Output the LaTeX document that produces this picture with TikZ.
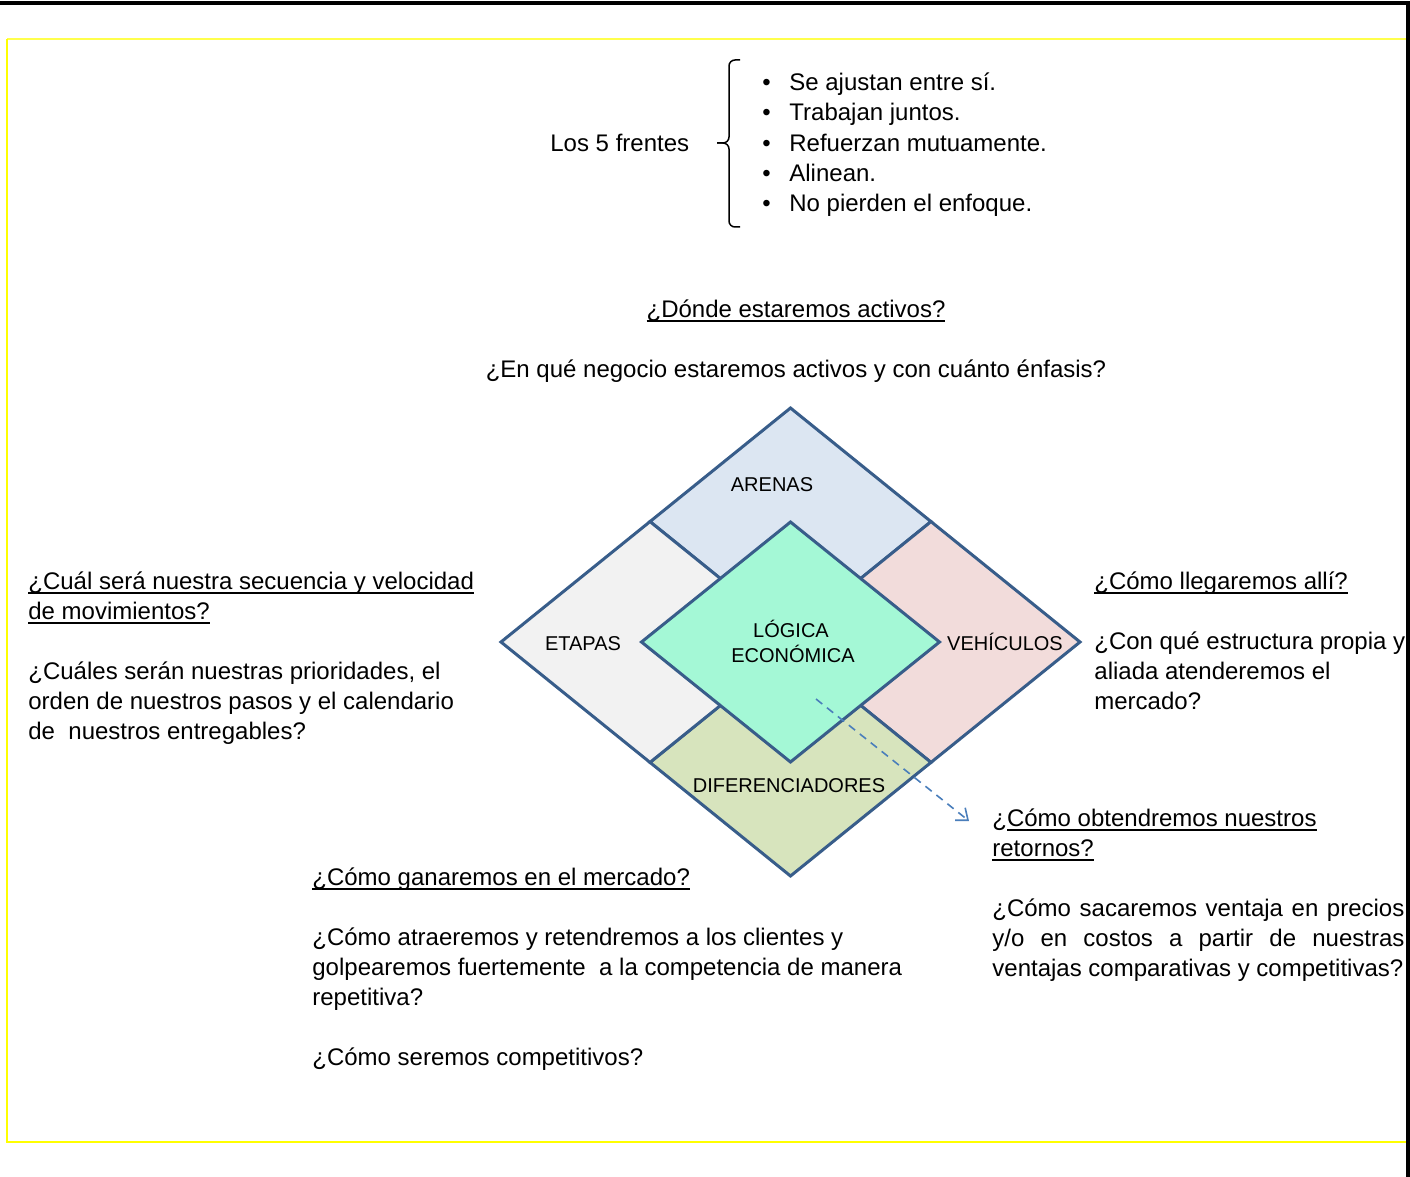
\documentclass[tikz,border=0pt]{standalone}
\usepackage{fontspec}
\setmainfont{Liberation Sans}
\usetikzlibrary{arrows.meta}

% underline at a fixed depth below the baseline
\newsavebox{\undlbox}
\newcommand{\undl}[1]{\sbox{\undlbox}{#1}\rlap{\rule[-2.4pt]{\wd\undlbox}{0.9pt}}\usebox{\undlbox}}

\definecolor{edgeblue}{HTML}{385D8A}
\definecolor{arenasfill}{HTML}{DCE6F2}
\definecolor{etapasfill}{HTML}{F2F2F2}
\definecolor{vehifill}{HTML}{F2DCDB}
\definecolor{difefill}{HTML}{D7E4BD}
\definecolor{logicafill}{HTML}{A4F8D6}
\definecolor{arrowblue}{HTML}{4A7EBB}
\definecolor{frameyellow}{HTML}{FFFF00}

\begin{document}
\begin{tikzpicture}[x=0.5pt,y=-0.5pt,
  txt/.style={inner sep=0pt,anchor=base west,font=\fontsize{12}{15}\selectfont},
  lbl/.style={inner sep=0pt,anchor=base,font=\fontsize{10}{12}\selectfont},
  zone/.style={draw=edgeblue,line width=1.5pt,line join=miter},
  bracket/.style={draw=black,line width=0.75pt,rounded corners=3pt}]
\useasboundingbox (0,0) rectangle (1410,1177);
\fill[white] (0,0) rectangle (1410,1177);

% page frame
\draw[frameyellow!70,line width=0.6pt] (7,39) -- (1408,39);
\draw[frameyellow,line width=1.1pt] (7,39) -- (7,1142) -- (1408,1142);
\draw[black,line width=1.6pt] (0,3) -- (1408,3) -- (1408,1177);

% diamond geometry: outer corners, split points on the outer edges, inner corners
\coordinate (oT) at (790.5,408);
\coordinate (oR) at (1080,642);
\coordinate (oB) at (790.5,876);
\coordinate (oL) at (501,642);
\coordinate (mTL) at (650,521.6);
\coordinate (mTR) at (931,521.6);
\coordinate (mBR) at (931,762.4);
\coordinate (mBL) at (650,762.4);
\coordinate (xT) at (790.5,635.5);
\coordinate (xR) at (782,642);
\coordinate (xB) at (790.5,648.5);
\coordinate (xL) at (799,642);
\coordinate (iT) at (790.5,522);
\coordinate (iR) at (939.5,642);
\coordinate (iB) at (790.5,762);
\coordinate (iL) at (641.5,642);

% outer quadrants
\filldraw[zone,fill=arenasfill] (oT) -- (mTR) -- (xT) -- (mTL) -- cycle;
\filldraw[zone,fill=vehifill] (oR) -- (mBR) -- (xR) -- (mTR) -- cycle;
\filldraw[zone,fill=difefill] (oB) -- (mBL) -- (xB) -- (mBR) -- cycle;
\filldraw[zone,fill=etapasfill] (oL) -- (mTL) -- (xL) -- (mBL) -- cycle;
% centre
\filldraw[zone,fill=logicafill] (iT) -- (iR) -- (iB) -- (iL) -- cycle;

% diamond labels
\node[lbl] (arenas) at (772,491) {ARENAS};
\node[lbl] (etapas) at (583,650) {ETAPAS};
\node[lbl] (logica1) at (791,637) {LÓGICA};
\node[lbl] (logica2) at (793,662) {ECONÓMICA};
\node[lbl] (vehiculos) at (1005,650) {VEHÍCULOS};
\node[lbl] (difer) at (789,792) {DIFERENCIADORES};

% dashed pointer to the returns question
\coordinate (arrS) at (816,699);
\coordinate (arrE) at (969,821);
\draw[arrowblue,line width=0.8pt,dash pattern=on 4pt off 3pt,
  -{Straight Barb[length=5pt,width=8pt,line width=0.8pt]}] (arrS) -- (arrE);

% the five fronts
\node[txt] (frentes) at (550,152) {Los 5 frentes};
\draw[bracket] (740,60) -| (729,143) -- (717,143);
\draw[bracket] (717,143) -- (729,143) |- (740,227);
\foreach \y/\t/\n in {91/Se ajustan entre sí./b1,121/Trabajan juntos./b2,
  152/Refuerzan mutuamente./b3,182/Alinean./b4,212/No pierden el enfoque./b5}{
  \node[txt] (\n dot) at (762,\y) {•};
  \node[txt] (\n) at (789,\y) {\t};
}

% arenas question
\node[txt,anchor=base] (arq1) at (796,317) {\undl{¿Dónde estaremos activos?}};
\node[txt,anchor=base] (arq2) at (796,377) {¿En qué negocio estaremos activos y con cuánto énfasis?};

% etapas question
\node[txt] (etq1) at (28,589) {\undl{¿Cuál será nuestra secuencia y velocidad}};
\node[txt] (etq2) at (28,619) {\undl{de movimientos?}};
\node[txt] (etq3) at (28,679) {¿Cuáles serán nuestras prioridades, el};
\node[txt] (etq4) at (28,709) {orden de nuestros pasos y el calendario};
\node[txt] (etq5) at (28,739) {de\ \ nuestros entregables?};

% vehiculos question
\node[txt] (veq1) at (1094,589) {\undl{¿Cómo llegaremos allí?}};
\node[txt] (veq2) at (1094,649) {¿Con qué estructura propia y};
\node[txt] (veq3) at (1094,679) {aliada atenderemos el};
\node[txt] (veq4) at (1094,709) {mercado?};

% logica economica question
\node[txt] (loq1) at (992,826) {¿\undl{Cómo obtendremos nuestros}};
\node[txt] (loq2) at (992,856) {\undl{retornos?}};
\node[txt] (loq3) at (992,916) {\makebox[206pt][s]{¿Cómo sacaremos ventaja en precios}};
\node[txt] (loq4) at (992,946) {\makebox[206pt][s]{y/o en costos a partir de nuestras}};
\node[txt] (loq5) at (992,976) {ventajas comparativas y competitivas?};

% diferenciadores question
\node[txt] (diq1) at (312,885) {\undl{¿Cómo ganaremos en el mercado?}};
\node[txt] (diq2) at (312,945) {¿Cómo atraeremos y retendremos a los clientes y};
\node[txt] (diq3) at (312,975) {golpearemos fuertemente\ \ a la competencia de manera};
\node[txt] (diq4) at (312,1005) {repetitiva?};
\node[txt] (diq5) at (312,1065) {¿Cómo seremos competitivos?};
\end{tikzpicture}
\end{document}
